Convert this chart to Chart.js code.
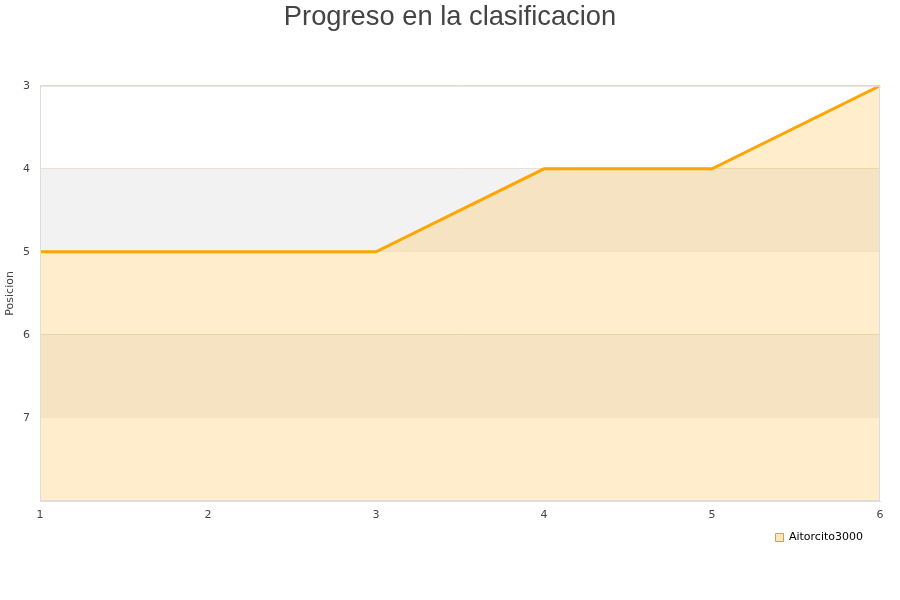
<!DOCTYPE html>
<html>
<head>
<meta charset="utf-8">
<script src="https://cdn.jsdelivr.net/npm/chart.js@4"></script>
<style>
    html, body { margin: 0; padding: 0; background: #fff; }
    #wrap { width: 900px; height: 600px; }
</style>
</head>
<body>
<div id="wrap"><canvas id="progressChart" width="900" height="600"></canvas></div>
<script>
    // Data
    const jornadas = ['1', '2', '3', '4', '5', '6'];
    const posiciones = [5, 5, 5, 4, 4, 3];
    const playerName = 'Aitorcito3000';
    const yMin = 3;
    const yMax = 8;
    // bands with grey background (from, to)
    const greyBands = [[4, 5], [6, 7]];

    // Alternating background bands + plot border
    const bandsPlugin = {
        id: 'bands',
        afterLayout(chart) {
            // pull the legend a bit in from the right edge
            chart.legend.right = chart.chartArea.right - 7;
        },
        beforeDatasetsDraw(chart) {
            const { ctx, chartArea, scales } = chart;
            ctx.save();
            ctx.fillStyle = '#f2f2f2';
            greyBands.forEach(b => {
                const y1 = scales.y.getPixelForValue(b[0]);
                const y2 = scales.y.getPixelForValue(b[1]);
                ctx.fillRect(chartArea.left, y1, chartArea.right - chartArea.left, y2 - y1);
            });
            ctx.restore();
        },
        afterDraw(chart) {
            const { ctx, chartArea } = chart;
            ctx.save();
            ctx.strokeStyle = '#dddddd';
            ctx.lineWidth = 1;
            ctx.strokeRect(chartArea.left + 0.5, chartArea.top + 0.5,
                chartArea.right - chartArea.left - 1, chartArea.bottom - chartArea.top - 1);
            ctx.restore();
        }
    };

    const ctx = document.getElementById('progressChart').getContext('2d');
    new Chart(ctx, {
        type: 'line',
        data: {
            labels: jornadas,
            datasets: [{
                label: playerName,
                data: posiciones,
                borderColor: '#ffa500',
                backgroundColor: 'rgba(255, 180, 40, 0.24)',
                borderWidth: 3,
                fill: { value: yMax },
                tension: 0,
                pointRadius: 0
            }]
        },
        plugins: [bandsPlugin],
        options: {
            responsive: false,
            animation: false,
            layout: {
                padding: { left: 0, right: 0, top: 0, bottom: 47 }
            },
            plugins: {
                title: {
                    display: true,
                    text: 'Progreso en la clasificacion',
                    color: '#444444',
                    font: { family: 'Liberation Sans, Arial, sans-serif', size: 27.3, weight: 'normal' },
                    padding: { top: 1, bottom: 52 }
                },
                legend: {
                    position: 'bottom',
                    align: 'end',
                    labels: {
                        boxWidth: 8,
                        boxHeight: 8,
                        padding: 10,
                        color: '#000',
                        font: { family: 'DejaVu Sans', size: 11 },
                        generateLabels: function(chart) {
                            return [{
                                text: playerName,
                                fillStyle: '#fde6c0',
                                strokeStyle: '#c8a060',
                                lineWidth: 1,
                                datasetIndex: 0
                            }];
                        }
                    }
                },
                tooltip: { enabled: false }
            },
            scales: {
                x: {
                    type: 'category',
                    offset: false,
                    grid: { display: false, drawTicks: false },
                    border: { color: '#dddddd' },
                    ticks: {
                        color: '#444',
                        font: { family: 'DejaVu Sans', size: 11 },
                        padding: 8,
                        maxRotation: 0
                    },
                    afterFit: function(scale) { scale.height = 21; }
                },
                y: {
                    reverse: true,
                    min: yMin,
                    max: yMax,
                    border: { color: '#dddddd' },
                    grid: { color: '#e4dccb', drawTicks: false },
                    title: {
                        display: true,
                        text: 'Posicion',
                        color: '#444',
                        font: { family: 'DejaVu Sans', size: 11 },
                        padding: { top: 4, bottom: 0 }
                    },
                    ticks: {
                        stepSize: 1,
                        color: '#444',
                        font: { family: 'DejaVu Sans', size: 11 },
                        padding: 10,
                        callback: function(value) {
                            return value === yMax ? '' : value;
                        }
                    },
                    afterFit: function(scale) { scale.width = 40; }
                },
                // empty axis that only keeps a right margin
                yRight: {
                    position: 'right',
                    display: true,
                    grid: { display: false },
                    border: { display: false },
                    ticks: { display: false },
                    afterFit: function(scale) { scale.width = 20; }
                }
            }
        }
    });
</script>
</body>
</html>
